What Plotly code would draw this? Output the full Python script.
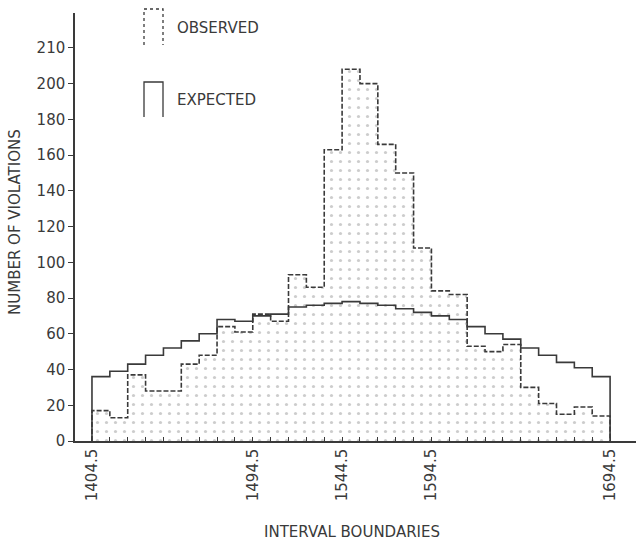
import plotly.graph_objects as go

# ---- data ----
bin_edges = [1404.5 + 10 * i for i in range(30)]  # 29 intervals
observed = [17, 13, 37, 28, 28, 43, 48, 64, 61, 71, 67, 93, 86, 163, 208,
            200, 166, 150, 108, 84, 82, 53, 50, 54, 30, 21, 15, 19, 14]
expected = [36, 39, 43, 48, 52, 56, 60, 68, 67, 70, 71, 75, 76, 77, 78,
            77, 76, 74, 72, 70, 68, 64, 60, 57, 52, 48, 44, 41, 36]
label_vals = [1404.5, 1494.5, 1544.5, 1594.5, 1694.5]
y_tick_vals = [0, 20, 40, 60, 80, 100, 120, 140, 160, 180, 200, 220]
y_tick_text = ["0", "20", "40", "60", "80", "100", "120", "140", "160", "180", "200", "210"]


def step_xy(edges, vals):
    xs = [edges[0]] + list(edges) + [edges[-1]]
    ys = [0] + list(vals) + [vals[-1], 0]
    return xs, ys


ox, oy = step_xy(bin_edges, observed)
ex, ey = step_xy(bin_edges, expected)

INK = "#3a3a3a"
FONT = "DejaVu Sans"

fig = go.Figure()
fig.add_trace(go.Scatter(
    x=ox, y=oy, mode="lines", line_shape="hv",
    line=dict(color=INK, width=1.6, dash="5px,2px"),
    fill="tozeroy", fillcolor="rgba(0,0,0,0)",
    fillpattern=dict(shape=".", fgcolor="#9a9a9a", bgcolor="rgba(255,255,255,0)",
                     size=9, solidity=0.1),
    name="OBSERVED", showlegend=False, hoverinfo="skip"))
fig.add_trace(go.Scatter(
    x=ex, y=ey, mode="lines", line_shape="hv",
    line=dict(color=INK, width=1.6),
    name="EXPECTED", showlegend=False, hoverinfo="skip"))

ticktext_x = [(f"{v:.1f}" if v in label_vals else "") for v in bin_edges]

fig.update_layout(
    width=636, height=541,
    margin=dict(l=75, r=0, t=13, b=100),
    paper_bgcolor="white", plot_bgcolor="white",
    font=dict(family=FONT, size=13, color=INK),
    xaxis=dict(range=[1395, 1709], showgrid=False, zeroline=False, automargin=False,
               showline=True, linecolor=INK, linewidth=1.5,
               tickmode="array", tickvals=bin_edges, ticktext=ticktext_x,
               ticks="inside", ticklen=4, tickcolor=INK, tickangle=-90,
               tickfont=dict(size=15, color=INK)),
    yaxis=dict(range=[0, 239.5], showgrid=False, zeroline=False, automargin=False,
               showline=True, linecolor=INK, linewidth=1.5,
               tickmode="array", tickvals=y_tick_vals, ticktext=y_tick_text,
               ticks="outside", ticklen=5, tickcolor=INK,
               tickfont=dict(size=15, color=INK)),
)

# layout helpers: pixel -> paper
plot_w, plot_h = 561.0, 428.0


def px(xp):
    return (xp - 75) / plot_w


def py(yp):
    return (441 - yp) / plot_h


# axis titles
fig.add_annotation(x=px(352), y=py(532), xref="paper", yref="paper",
                   text="INTERVAL BOUNDARIES", showarrow=False,
                   xanchor="center", yanchor="middle",
                   font=dict(family=FONT, size=15, color=INK))
fig.add_annotation(x=px(15), y=py(222), xref="paper", yref="paper",
                   text="NUMBER OF VIOLATIONS", showarrow=False, textangle=-90,
                   xanchor="center", yanchor="middle",
                   font=dict(family=FONT, size=15, color=INK))

# legend glyphs (open-bottom boxes) and labels
for (top, bot, dash, label, ty) in [(9, 45, "dot", "OBSERVED", 28),
                                    (82, 117, "solid", "EXPECTED", 100)]:
    fig.add_shape(type="path", xref="paper", yref="paper",
                  path=f"M {px(144)} {py(bot)} L {px(144)} {py(top)} L {px(163)} {py(top)} L {px(163)} {py(bot)}",
                  line=dict(color=INK, width=1.3, dash=dash))
    fig.add_annotation(x=px(175), y=py(ty), xref="paper", yref="paper",
                       text=label, showarrow=False, xanchor="left", yanchor="middle",
                       font=dict(family=FONT, size=15, color=INK))

fig.write_html("out.html", config={"displayModeBar": False},
               post_script="document.body.style.margin='0';")
